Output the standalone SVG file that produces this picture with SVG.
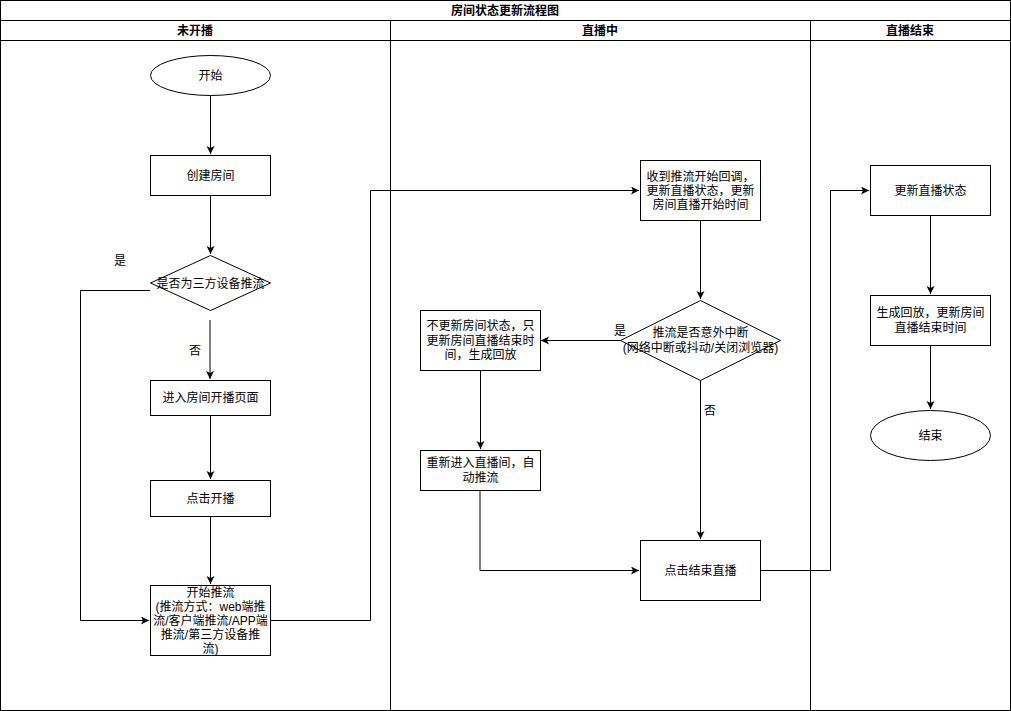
<svg xmlns="http://www.w3.org/2000/svg" width="1011" height="711" viewBox="0 0 1011 711">
<style>
text{font-family:"Liberation Sans","Noto Sans CJK SC",sans-serif;font-size:12px;fill:#000;text-anchor:middle}
.b{font-weight:bold}
.box{fill:#fff;stroke:#000;stroke-width:1}
.ln{fill:none;stroke:#000;stroke-width:1}
.frame{fill:none;stroke:#000;stroke-width:1}
</style>
<defs>
<marker id="arr" markerWidth="10" markerHeight="10" refX="8" refY="4" orient="auto" markerUnits="userSpaceOnUse">
<path d="M0,0 L8,4 L0,8 L2,4 Z" fill="#000"/>
</marker>
</defs>
<rect width="1011" height="711" fill="#fff"/>
<g id="pool">
<rect class="frame" x="0.5" y="0.5" width="1010" height="710"/>
<line class="ln" x1="0.5" y1="20.5" x2="1010.5" y2="20.5"/>
<line class="ln" x1="0.5" y1="40.5" x2="1010.5" y2="40.5"/>
<line class="ln" x1="390.5" y1="20.5" x2="390.5" y2="710.5"/>
<line class="ln" x1="810.5" y1="20.5" x2="810.5" y2="710.5"/>
<text class="b" x="505" y="15">房间状态更新流程图</text>
<text class="b" x="195" y="35">未开播</text>
<text class="b" x="600" y="35">直播中</text>
<text class="b" x="910" y="35">直播结束</text>
</g>
<g id="connectors">
<path class="ln" d="M210.5,95.5 V154" marker-end="url(#arr)"/>
<path class="ln" d="M210.5,195.5 V254" marker-end="url(#arr)"/>
<path class="ln" d="M210,320 V379" stroke="#000" marker-end="url(#arr)"/>
<path class="ln" d="M210.5,415.5 V479" marker-end="url(#arr)"/>
<path class="ln" d="M210.5,516.5 V584" marker-end="url(#arr)"/>
<path class="ln" d="M150,290.5 H80.5 V620.5 H149" marker-end="url(#arr)"/>
<path class="ln" d="M270.5,620.5 H370.5 V190.5 H639" marker-end="url(#arr)"/>
<path class="ln" d="M700.5,220.5 V299" marker-end="url(#arr)"/>
<path class="ln" d="M621,340.5 H541" marker-end="url(#arr)"/>
<path class="ln" d="M700.5,380.5 V539" marker-end="url(#arr)"/>
<path class="ln" d="M480.5,370.5 V449" marker-end="url(#arr)"/>
<path class="ln" d="M480,490.5 V570.5 H639" marker-end="url(#arr)"/>
<path class="ln" d="M760.5,570.5 H830.5 V190.5 H869" marker-end="url(#arr)"/>
<path class="ln" d="M930.5,215.5 V294" marker-end="url(#arr)"/>
<path class="ln" d="M930.5,345.5 V409" marker-end="url(#arr)"/>
<text x="120" y="265">是</text>
<text x="195" y="355">否</text>
<text x="620" y="335">是</text>
<text x="710" y="415">否</text>
</g>
<g id="start">
<ellipse class="box" cx="210.5" cy="75.5" rx="60" ry="20"/>
<text x="210.5" y="80">开始</text>
</g>
<g id="create-room">
<rect class="box" x="150.5" y="155.5" width="120" height="40"/>
<text x="210.5" y="180">创建房间</text>
</g>
<g id="is-third-party">
<path class="box" d="M210.5,255.5 L270.5,283 L210.5,310.5 L150.5,283 Z"/>
<text x="210.5" y="288">是否为三方设备推流</text>
</g>
<g id="enter-room">
<rect class="box" x="150.5" y="380.5" width="120" height="35"/>
<text x="210.5" y="402">进入房间开播页面</text>
</g>
<g id="click-start">
<rect class="box" x="150.5" y="480.5" width="120" height="36"/>
<text x="210.5" y="503">点击开播</text>
</g>
<g id="start-push">
<rect class="box" x="150.5" y="585.5" width="120" height="70"/>
<text x="210.5" y="597">开始推流</text>
<text x="210.5" y="611">(推流方式：web端推</text>
<text x="210.5" y="625">流/客户端推流/APP端</text>
<text x="210.5" y="639">推流/第三方设备推</text>
<text x="210.5" y="653">流)</text>
</g>
<g id="receive-callback">
<rect class="box" x="640.5" y="160.5" width="120" height="60"/>
<text x="700.5" y="181">收到推流开始回调，</text>
<text x="700.5" y="195">更新直播状态，更新</text>
<text x="700.5" y="209">房间直播开始时间</text>
</g>
<g id="is-interrupted">
<path class="box" d="M700.5,300.5 L780.5,340.5 L700.5,380.5 L620.5,340.5 Z"/>
<text x="700.5" y="337">推流是否意外中断</text>
<text x="700.5" y="352">(网络中断或抖动/关闭浏览器)</text>
</g>
<g id="no-update-status">
<rect class="box" x="420.5" y="310.5" width="120" height="60"/>
<text x="480.5" y="330">不更新房间状态，只</text>
<text x="480.5" y="345">更新房间直播结束时</text>
<text x="480.5" y="359">间，生成回放</text>
</g>
<g id="reenter">
<rect class="box" x="420.5" y="450.5" width="120" height="40"/>
<text x="480.5" y="467">重新进入直播间，自</text>
<text x="480.5" y="482">动推流</text>
</g>
<g id="click-end">
<rect class="box" x="640.5" y="540.5" width="120" height="60"/>
<text x="700.5" y="575">点击结束直播</text>
</g>
<g id="update-status">
<rect class="box" x="870.5" y="165.5" width="120" height="50"/>
<text x="930.5" y="195">更新直播状态</text>
</g>
<g id="gen-playback">
<rect class="box" x="870.5" y="295.5" width="120" height="50"/>
<text x="930.5" y="317">生成回放，更新房间</text>
<text x="930.5" y="332">直播结束时间</text>
</g>
<g id="end">
<ellipse class="box" cx="930.5" cy="435.5" rx="60" ry="25"/>
<text x="930.5" y="440">结束</text>
</g>
</svg>
